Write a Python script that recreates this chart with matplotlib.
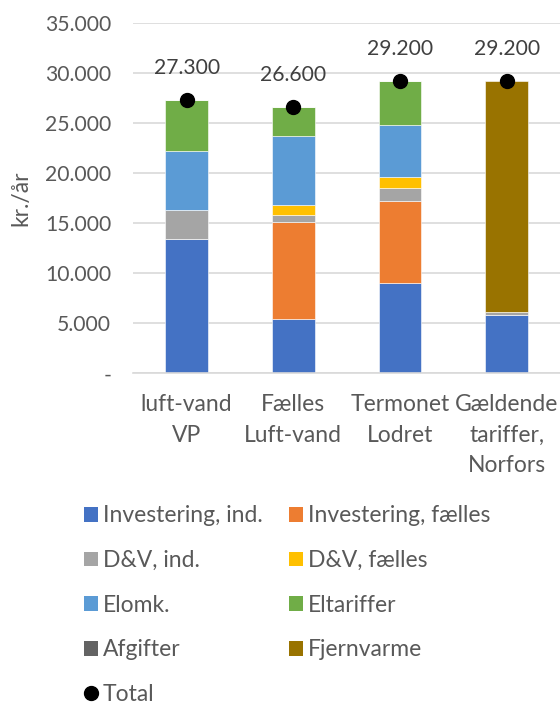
import matplotlib
matplotlib.use("Agg")
import matplotlib.pyplot as plt
from matplotlib.patches import Patch
from matplotlib.lines import Line2D
from matplotlib.ticker import FuncFormatter

categories = ["luft-vand\nVP", "Fælles\nLuft-vand", "Termonet\nLodret", "Gældende\ntariffer,\nNorfors"]
series_names = ["Investering, ind.", "Investering, fælles", "D&V, ind.", "D&V, fælles",
                "Elomk.", "Eltariffer", "Afgifter", "Fjernvarme"]
inv_ind = [13400, 5450, 9000, 5850]
inv_faelles = [0, 9650, 8250, 0]
dv_ind = [2900, 750, 1200, 300]
dv_faelles = [0, 950, 1150, 0]
elomk = [5900, 6900, 5200, 0]
eltariffer = [5100, 2900, 4400, 0]
afgifter = [0, 0, 0, 0]
fjernvarme = [0, 0, 0, 23050]
total = [27300, 26600, 29200, 29200]

colors = ["#4472C4", "#ED7D31", "#A5A5A5", "#FFC000", "#5B9BD5", "#70AD47", "#636363", "#997300"]
series = [inv_ind, inv_faelles, dv_ind, dv_faelles, elomk, eltariffer, afgifter, fjernvarme]

plt.rcParams['font.family'] = ['Lato', 'DejaVu Sans']
txt = "#595959"
fs_num = 15.2
fs_txt = 16.5

fig = plt.figure(figsize=(5.6, 7.06), dpi=100)
ax = fig.add_axes([0.2381, 0.4712, 0.7619, 0.4967])

x = list(range(len(categories)))
bottom = [0] * len(categories)
for vals, col in zip(series, colors):
    ax.bar(x, vals, 0.4, bottom=bottom, color=col, edgecolor="white", linewidth=0.4, zorder=2)
    bottom = [b + v for b, v in zip(bottom, vals)]

ax.plot(x, total, "o", color="black", markersize=10, zorder=3)
for xi, t in zip(x, total):
    ax.annotate(f"{t:,}".replace(",", "."), (xi, t), xytext=(0, 16), textcoords="offset points",
                ha="center", va="bottom", fontsize=fs_num, color="#404040")

ax.set_xlim(-0.5, 3.5)
ax.set_ylim(0, 35000)
ax.set_yticks(range(0, 35001, 5000))
ax.yaxis.set_major_formatter(FuncFormatter(lambda v, p: "-" if v == 0 else f"{int(v):,}".replace(",", ".")))
ax.grid(axis="y", color="#D9D9D9", linewidth=1.2, zorder=0)
ax.set_axisbelow(True)
for s in ["top", "right", "left"]:
    ax.spines[s].set_visible(False)
ax.spines["bottom"].set_color("#D9D9D9")
ax.spines["bottom"].set_linewidth(1.2)
ax.tick_params(axis="y", length=0, pad=16, labelsize=fs_num, labelcolor=txt)
ax.tick_params(axis="x", length=0, pad=15, labelsize=fs_txt, labelcolor=txt)
ax.set_xticks(x)
ax.set_xticklabels(categories, linespacing=1.55)
ax.set_ylabel("kr./år", fontsize=fs_txt, color=txt)
ax.yaxis.set_label_coords(-0.239, 0.5)

handles = [Patch(facecolor=c) for c in colors]
handles.append(Line2D([], [], marker="o", color="black", linestyle="none", markersize=10))
labels = series_names + ["Total"]
order = [0, 2, 4, 6, 8, 1, 3, 5, 7]
leg = fig.legend([handles[i] for i in order], [labels[i] for i in order], ncol=2,
                 loc="upper left", bbox_to_anchor=(0.15, 0.284), frameon=False,
                 fontsize=fs_txt, handlelength=0.61, handleheight=0.61, handletextpad=0.22,
                 columnspacing=1.15, labelspacing=1.03, borderpad=0, borderaxespad=0)
for t in leg.get_texts():
    t.set_color(txt)

fig.savefig("out.png", dpi=100)
